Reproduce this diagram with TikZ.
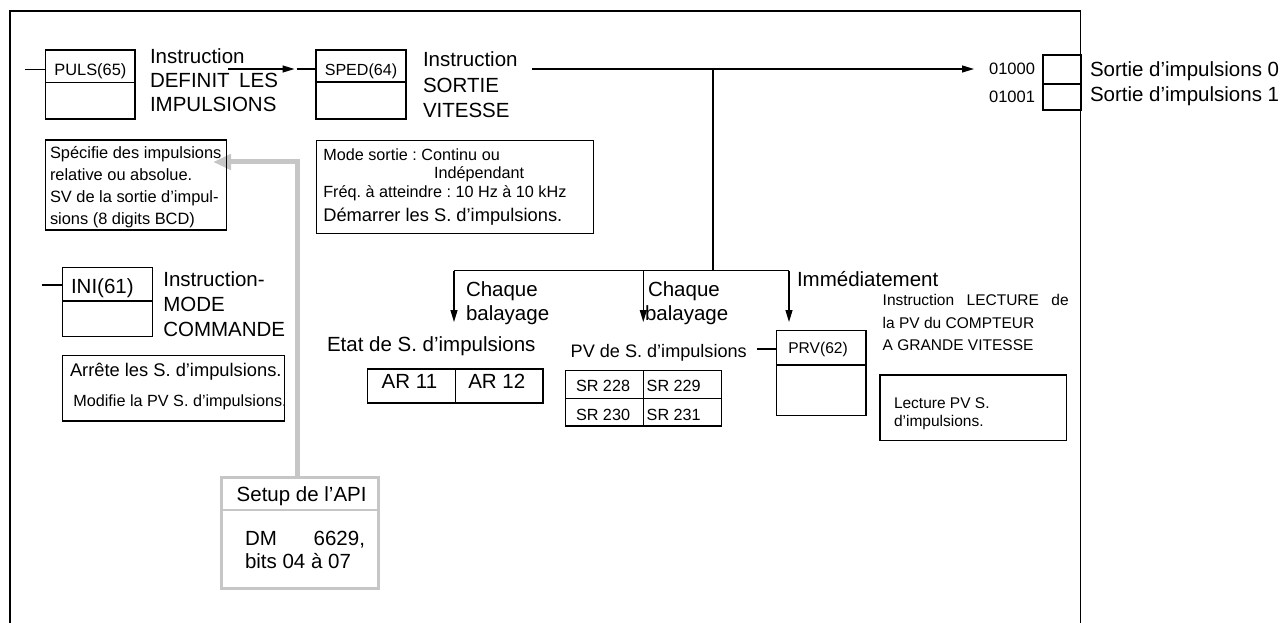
\documentclass[tikz,border=0pt]{standalone}
\usepackage{fontspec}
\setmainfont{Liberation Sans}
\usetikzlibrary{arrows.meta}
\definecolor{lgray}{RGB}{198,198,198}
\newcommand\fsz[1]{\fontsize{#1pt}{#1pt}\selectfont}
\frenchspacing
\begin{document}
\frenchspacing
\begin{tikzpicture}[x=1pt,y=-1pt,
 ln/.style={line width=1.2pt},
 box/.style={draw, line width=1.2pt, inner sep=0pt, outer sep=0pt, anchor=north west},
 t/.style={anchor=base west, inner sep=0pt, outer sep=0pt},
 L/.style={t, font=\fsz{20.5}},
 M/.style={t, font=\fsz{18.3}},
 S/.style={t, font=\fsz{16.2}},
 arr/.style={ln, -{Triangle[length=12pt,width=7pt]}},
 garr/.style={color=lgray, line width=5pt, -{Triangle[length=18pt,width=15pt]}}
]
\useasboundingbox (0,0) rectangle (1286,623);
% frame
\coordinate (fbl) at (10,623); \coordinate (ftl) at (10,11);
\coordinate (ftr) at (1080.5,11); \coordinate (fbr) at (1080.5,623);
\draw[ln] (fbl) -- (ftl) -- (ftr) -- (fbr);

% PULS
\node[box, minimum width=89.3pt, minimum height=69pt] (puls) at (45.7,50) {};
\draw[ln] (45.7,82.7) -- (135,82.7);
\node[t, font=\fsz{16.4}, anchor=base] (pulsl) at (90.4,75.5) {PULS(65)};
\coordinate (pulsin) at (25,69.5);
\draw[ln] (pulsin) -- (pulsin -| puls.west);
\node[L] (p1) at (150,64) {Instruction};
\node[L] (p2) at (150,87.5) {DEFINIT\hspace{9.5pt}LES};
\node[L] (p3) at (150,112) {IMPULSIONS};

% SPED
\node[box, minimum width=90pt, minimum height=69pt] (sped) at (316,50) {};
\draw[ln] (316,82) -- (406,82);
\node[t, font=\fsz{16.1}, anchor=base] (spedl) at (361,75.5) {SPED(64)};
\node[L] (s1) at (423,66.5) {Instruction};
\node[L] (s2) at (423,92.5) {SORTIE};
\node[L] (s3) at (423,118) {VITESSE};

% arrow PULS -> SPED
\coordinate (pa) at (228,69); \coordinate (spedin) at (296.5,69);
\draw[arr] (pa) -- ([xshift=-2pt]spedin);
\draw[ln] (spedin) -- (spedin -| sped.west);

% main line to outputs
\coordinate (ma) at (532,69); \coordinate (J) at (713,69); \coordinate (outtip) at (974,69);
\draw[arr] (ma) -- (outtip);

% outputs
\node[box, minimum width=38pt, minimum height=29pt] (o0) at (1043,55) {};
\node[box, minimum width=38pt, minimum height=26pt] (o1) at (1043,84) {};
\node[t, font=\fsz{16.5}, anchor=base east] (o0l) at (1035,75) {01000};
\node[t, font=\fsz{16.5}, anchor=base east] (o1l) at (1035,103) {01001};
\node[L] (o0t) at (1090,76.7) {Sortie d’impulsions 0};
\node[L] (o1t) at (1090,101.7) {Sortie d’impulsions 1};

% junction and branches
\coordinate (Jb) at (713,270.7);
\coordinate (bl) at (454,270.7); \coordinate (bm) at (643.3,270.7); \coordinate (br) at (789,270.7);
\coordinate (tl) at (454,322); \coordinate (tm) at (643.3,322); \coordinate (tr) at (789,322);
\draw[ln] (J) -- (Jb);
\draw[ln] (bl) -- (br);
\draw[arr] (bl) -- (tl);
\draw[arr] (bm) -- (tm);
\draw[arr] (br) -- (tr);
\node[L] (c1a) at (466,296.7) {Chaque};
\node[L] (c1b) at (466,320) {balayage};
\node[L] (c2a) at (648,296.7) {Chaque};
\node[L] (c2b) at (645,320) {balayage};
\node[L] (imm) at (797,286.7) {Immédiatement};

% gray arrow (setup)
\node[box, draw=lgray, line width=2.5pt, minimum width=156.6pt, minimum height=110.6pt] (setup) at (221.7,477.7) {};
\draw[lgray, line width=2.5pt] (221.7,510) -- (378.3,510);
\coordinate (gc) at (297.5,162); \coordinate (gtip) at (213,162);
\draw[garr] (setup.north -| gc) -- (gc) -- (gtip);
\node[L] (su1) at (236.7,501.7) {Setup de l’API};
\node[L] (su2) at (245,545) {DM};
\node[L, anchor=base east] (su3) at (365,545) {6629,};
\node[L] (su4) at (245,568.3) {bits 04 à 07};

% Specifie box
\node[box, minimum width=181pt, minimum height=90pt] (spec) at (45.7,140) {};
\node[t, font=\fsz{16.4}] (sp1) at (50,159) {Spécifie des impulsions};
\node[t, font=\fsz{16.4}] (sp2) at (50,180.7) {relative ou absolue.};
\node[t, font=\fsz{16.4}] (sp3) at (50,202.4) {SV de la sortie d’impul-};
\node[t, font=\fsz{16.4}] (sp4) at (50,224) {sions (8 digits BCD)};

% Mode box
\node[box, minimum width=276.6pt, minimum height=92.6pt] (mode) at (316.7,140.7) {};
\node[S] (m1) at (323.3,160.5) {Mode sortie : Continu ou};
\node[S] (m2) at (434,178.5) {Indépendant};
\node[S] (m3) at (323.3,197) {Fréq. à atteindre : 10 Hz à 10 kHz};
\node[M] (m4) at (323.3,221.5) {Démarrer les S. d’impulsions.};

% INI
\node[box, minimum width=89.6pt, minimum height=69.4pt] (ini) at (62.7,267.3) {};
\draw[ln] (62.7,301) -- (152.3,301);
\node[L] (inil) at (71,293) {INI(61)};
\coordinate (iniin) at (41.7,285);
\draw[ln] (iniin) -- (iniin -| ini.west);
\node[L] (i1) at (163.3,286) {Instruction-};
\node[L] (i2) at (163.3,311.7) {MODE};
\node[L] (i3) at (163.3,336.7) {COMMANDE};

% Arrete box
\node[box, minimum width=222pt, minimum height=65.3pt] (arr) at (62.3,355.7) {};
\node[M] (a1) at (70,376.7) {Arrête les S. d’impulsions.};
\node[S] (a2) at (73.3,406.7) {Modifie la PV S. d’impulsions.};

% Etat
\node[L] (etat) at (327,351) {Etat de S. d’impulsions};
\node[box, minimum width=175.3pt, minimum height=34pt] (ar) at (367.7,369) {};
\draw[ln] (455.7,369) -- (455.7,403);
\node[L] (ar1) at (381.7,388) {AR 11};
\node[L] (ar2) at (468.3,388) {AR 12};

% PV
\node[t, font=\fsz{18.1}] (pv) at (570.7,357.5) {PV de S. d’impulsions};
\node[box, minimum width=156pt, minimum height=55.3pt] (sr) at (565.7,370.7) {};
\draw[ln] (565.7,398.3) -- (721.7,398.3);
\draw[ln] (643.3,370.7) -- (643.3,426);
\node[S] (sr1) at (576,391.7) {SR 228};
\node[S] (sr2) at (646.7,391.7) {SR 229};
\node[S] (sr3) at (576,420.7) {SR 230};
\node[S] (sr4) at (646.7,420.7) {SR 231};

% PRV
\node[box, minimum width=89.3pt, minimum height=85pt] (prv) at (776.7,330.7) {};
\draw[ln] (776.7,365) -- (866,365);
\node[t, font=\fsz{15.6}] (prvl) at (788.3,353.3) {PRV(62)};
\coordinate (prvin) at (757,349);
\draw[ln] (prvin) -- (prvin -| prv.west);
\node[t, font=\fsz{15.5}] (l1) at (882.7,305) {\makebox[186pt][s]{Instruction LECTURE de}};
\node[t, font=\fsz{15.5}] (l2) at (882.7,328) {la PV du COMPTEUR};
\node[t, font=\fsz{15.5}] (l3) at (882.7,350) {A GRANDE VITESSE};
\node[box, minimum width=186.7pt, minimum height=65.7pt] (lec) at (880,375) {};
\node[t, font=\fsz{15.5}] (lc1) at (894,408) {Lecture PV S.};
\node[t, font=\fsz{15.5}] (lc2) at (894,426.7) {d’impulsions.};
\end{tikzpicture}
\end{document}
